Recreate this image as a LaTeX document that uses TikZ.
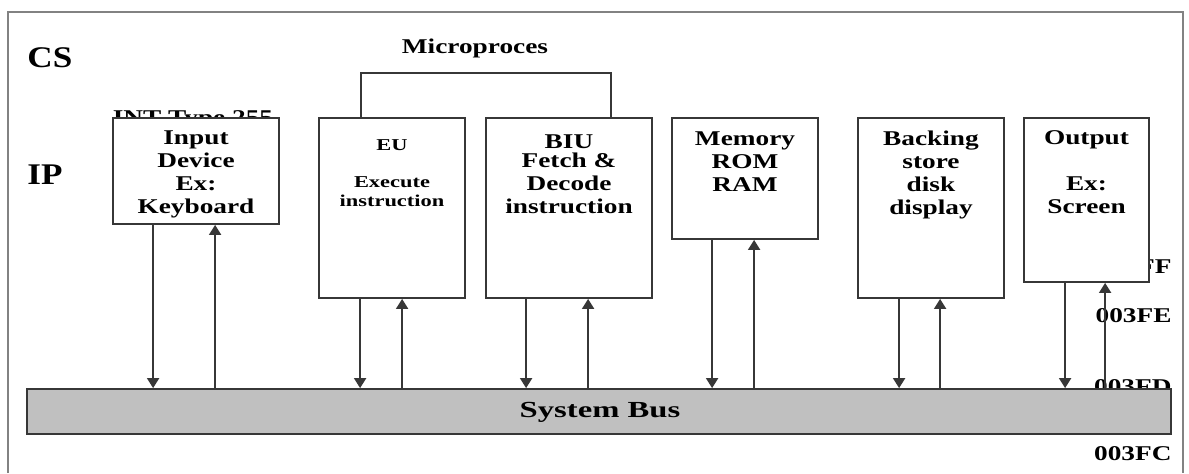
\documentclass[tikz,border=0pt]{standalone}
\usepackage{fontspec}
\setmainfont{Liberation Serif}
\usetikzlibrary{arrows.meta,calc}
\definecolor{linegray}{RGB}{55,55,55}
\definecolor{framegray}{RGB}{130,130,130}
\definecolor{busgray}{RGB}{192,192,192}
\tikzset{
  unitbox/.style={draw=linegray, line width=0.9pt, fill=white, inner sep=0pt},
  boxtext/.style={font=\bfseries\fontsize{10.5}{11.5}\selectfont, align=center,
    inner sep=0pt, anchor=north, xscale=1.3},
  smalltext/.style={font=\bfseries\fontsize{8.3}{9.6}\selectfont, align=center,
    inner sep=0pt, anchor=north, xscale=1.35},
  addr/.style={font=\bfseries\fontsize{10.5}{11.5}\selectfont, inner sep=0pt,
    anchor=base east, xscale=1.3},
  regname/.style={font=\bfseries\fontsize{15}{17}\selectfont, inner sep=0pt,
    anchor=west, xscale=1.17},
  busline/.style={draw=linegray, line width=0.9pt, -{Triangle[length=5pt,width=6pt]}}
}
\begin{document}
\begin{tikzpicture}[x=0.5pt, y=-0.5pt]
\useasboundingbox (0,0) rectangle (1189,473);
% Rahmen
\draw[framegray, line width=1pt] (8,473) -- (8,12) -- (1183,12) -- (1183,473);
% Register
\node[regname] (cs) at (27,58) {CS};
\node[regname] (ip) at (27,175) {IP};
% Adressen
\node[addr] (aff) at (1172,273) {003FF};
\node[addr] (afe) at (1172,322) {003FE};
\node[addr] (afd) at (1172,393) {003FD};
\node[addr] (afc) at (1172,460) {003FC};
\node[boxtext, anchor=base] (int) at (193,124) {INT Type 255};
% Mikroprozessor
\node[boxtext] (mp) at (475,39) {Microproces};
\draw[linegray, line width=0.9pt] (361,118) -- (361,73) -- (611,73) -- (611,118);
% Einheiten
\node[unitbox, minimum width=83pt, minimum height=53pt] (inp) at (196,171) {};
\node[unitbox, minimum width=73pt, minimum height=90pt] (eu) at (392,208) {};
\node[unitbox, minimum width=83pt, minimum height=90pt] (biu) at (569,208) {};
\node[unitbox, minimum width=73pt, minimum height=60.5pt] (mem) at (745,178.5) {};
\node[unitbox, minimum width=73pt, minimum height=90pt] (back) at (931,208) {};
\node[unitbox, minimum width=62.5pt, minimum height=82pt] (outp) at (1086.5,200) {};
\node[boxtext] (inp-t) at ($(inp.north)+(0,13)$) {Input\\Device\\Ex:\\Keyboard};
\node[smalltext] (eu-t) at ($(eu.north)+(0,22)$) {EU\\[9pt]Execute\\instruction};
\node[boxtext] (biu-t) at ($(biu.north)+(0,17)$) {BIU\\[-2pt]Fetch \&\\Decode\\instruction};
\node[boxtext] (mem-t) at ($(mem.north)+(0,14)$) {Memory\\ROM\\RAM};
\node[boxtext] (back-t) at ($(back.north)+(0,13)$) {Backing\\store\\disk\\display};
\node[boxtext] (outp-t) at ($(outp.north)+(0,13)$) {Output\\ \\Ex:\\Screen};
% Systembus
\node[unitbox, fill=busgray, minimum width=572pt, minimum height=22.5pt] (bus) at (599,411.5) {};
\node[anchor=base, inner sep=0pt, font=\bfseries\fontsize{11.5}{13}\selectfont, xscale=1.42] (bus-t) at (600,417) {System Bus};
% Verbindungen
\foreach \u/\d/\p in {inp/41/103, eu/42/84, biu/41/103, mem/41/83, back/42/83, outp/42/82} {
  \coordinate (dn) at ($(\u.south west)+(\d,0)$);
  \coordinate (up) at ($(\u.south west)+(\p,0)$);
  \draw[busline] (dn) -- (dn |- bus.north);
  \draw[busline] (up |- bus.north) -- (up);
}
\end{tikzpicture}
\end{document}
